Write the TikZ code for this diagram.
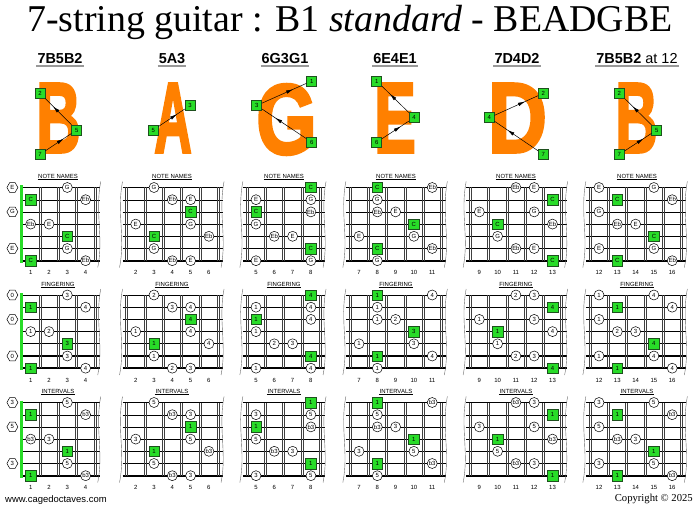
\documentclass[tikz,border=0pt]{standalone}
\usepackage{fontspec}
\setmainfont{Liberation Serif}
\setsansfont{Liberation Sans}
\newfontfamily\letterfont[FakeBold=3]{Liberation Sans Bold}
\usetikzlibrary{shapes.geometric, arrows.meta, decorations.markings}

\definecolor{letterorange}{RGB}{255,128,0}
\definecolor{rootgreen}{RGB}{40,220,40}
\definecolor{rootedge}{RGB}{30,80,30}

\tikzset{
  notefont/.style={font=\sffamily\fontsize{6}{6}\selectfont},
  rootbox/.style={draw=rootedge, fill=rootgreen, minimum size=10.5bp, inner sep=0pt, line width=0.5bp, notefont},
  notecirc/.style={circle, draw, fill=white, minimum size=10bp, inner sep=0pt, line width=0.5bp, notefont},
  openhex/.style={regular polygon, regular polygon sides=6, draw, fill=white, minimum size=11bp, inner sep=0pt, line width=0.5bp, notefont},
  shapebox/.style={draw=rootedge, fill=rootgreen, minimum size=10bp, inner sep=0pt, line width=0.5bp, font=\sffamily\fontsize{6}{6}\selectfont},
  bigletter/.style={text=letterorange, inner sep=0pt, font=\letterfont\fontsize{100}{100}\selectfont},
  midarrow/.style={line width=0.5bp, decoration={markings, mark=at position 0.7 with {\arrow{Latex[length=7bp,width=3.5bp]}}}, postaction={decorate}},
  header/.style={anchor=base, inner xsep=1bp, inner ysep=2.5bp, font=\sffamily\fontsize{14.5}{14.5}\selectfont},
  seclab/.style={inner xsep=0.5bp, inner ysep=0.8bp, font=\sffamily\fontsize{6}{6}\selectfont},
  fretnum/.style={inner sep=0pt, font=\sffamily\fontsize{6}{6}\selectfont},
  wire/.style={line width=0.4bp, black!75},
  edge/.style={line width=0.4bp, black!60},
  nutbar/.style={line width=3bp, rootgreen}
}

\begin{document}
\begin{tikzpicture}[x=1bp, y=-1bp]
    \useasboundingbox (0,0) rectangle (700,509);

    % শিরোনাম
    \node[anchor=base, inner sep=0pt, font=\fontsize{38}{38}\selectfont] (title) at (350,32)
        {7-string guitar : B1 \textit{standard} - BEADGBE};

    % কলামের শিরোনাম
    \node[header] (h1) at (60,63.3) {\textbf{7B5B2}};
    \node[header] (h2) at (172,63.3) {\textbf{5A3}};
    \node[header] (h3) at (285,63.3) {\textbf{6G3G1}};
    \node[header] (h4) at (395,63.3) {\textbf{6E4E1}};
    \node[header] (h5) at (517,63.3) {\textbf{7D4D2}};
    \node[header] (h6) at (637,63.3) {\textbf{7B5B2} at 12};
    \foreach \h in {h1,h2,h3,h4,h5,h6}
        \draw[black!40, line width=1.6bp] (\h.south west) -- (\h.south east);

    % বড় অক্ষর
    \node[bigletter, xscale=0.62] (Lb) at (58.5,118) {B};
    \node[bigletter, xscale=0.52] (La) at (173,118) {A};
    \node[bigletter, xscale=0.78] (Lg) at (286.5,119.5) {G};
    \node[bigletter, xscale=0.63] (Le) at (395,118) {E};
    \node[bigletter, xscale=0.82] (Ld) at (517.5,118) {D};
    \node[bigletter, xscale=0.59] (Lbb) at (636.5,118) {B};

    % অক্ষরের উপর বর্গ (স্ট্রিং নম্বর)
    \node[shapebox] (B-2) at (40,93.3) {2};
    \node[shapebox] (B-5) at (76.7,130) {5};
    \node[shapebox] (B-7) at (40,154.4) {7};
    \node[shapebox] (A-5) at (153.3,130) {5};
    \node[shapebox] (A-3) at (190,105.5) {3};
    \node[shapebox] (G-1) at (311.7,81) {1};
    \node[shapebox] (G-3) at (256.7,105.5) {3};
    \node[shapebox] (G-6) at (311.7,142.2) {6};
    \node[shapebox] (E-1) at (376.7,81) {1};
    \node[shapebox] (E-4) at (414,117.7) {4};
    \node[shapebox] (E-6) at (376.7,142.2) {6};
    \node[shapebox] (D-2) at (543.3,93.3) {2};
    \node[shapebox] (D-4) at (489.3,117.7) {4};
    \node[shapebox] (D-7) at (543.3,154.4) {7};
    \node[shapebox] (BB-2) at (619.3,93.3) {2};
    \node[shapebox] (BB-5) at (656.7,130) {5};
    \node[shapebox] (BB-7) at (619.3,154.4) {7};

    % তীর
    \draw[midarrow] (B-7) -- (B-5);
    \draw[midarrow] (B-5) -- (B-2);
    \draw[midarrow] (A-5) -- (A-3);
    \draw[midarrow] (G-6) -- (G-3);
    \draw[midarrow] (G-3) -- (G-1);
    \draw[midarrow] (E-6) -- (E-4);
    \draw[midarrow] (E-4) -- (E-1);
    \draw[midarrow] (D-7) -- (D-4);
    \draw[midarrow] (D-4) -- (D-2);
    \draw[midarrow] (BB-7) -- (BB-5);
    \draw[midarrow] (BB-5) -- (BB-2);

    % ফ্রেটবোর্ড: কলাম/শূন্য ফ্রেটের x/প্রথম ফ্রেট/শেষ ফ্রেট/কেন্দ্র
    \foreach \col/\xo/\fa/\fb/\cx in {1/12.4/1/4/58, 2/99.1/2/6/172, 3/164.5/5/8/284,
                                      4/230.9/7/11/396, 5/314.6/9/13/516, 6/379.4/12/16/637}{
        \pgfmathtruncatemacro\fz{\fa-1}
        \pgfmathsetmacro\xl{\xo+(\fa-0.5)*18.3}
        \pgfmathsetmacro\xr{\xo+(\fb+0.5)*18.3}
        \pgfmathsetmacro\sl{\col==1 ? \xl : \xl-4}
        \foreach \yt/\lab/\rw in {187.5/NOTE NAMES/a, 295/FINGERING/b, 402.5/INTERVALS/c}{
            % স্ট্রিং
            \foreach \st/\lw in {1/0.3, 2/0.35, 3/0.4, 4/0.6, 5/0.9, 6/1.2, 7/1.7}
                \draw[line width=\lw bp] (\sl, {\yt+(\st-1)*12.2}) -- (\xr+5, {\yt+(\st-1)*12.2});
            % ফ্রেট (দুই লাইন)
            \foreach \f in {\fz,...,\fb}{
                \pgfmathsetmacro\xw{\xo+(\f+0.5)*18.3}
                \ifnum\f>0
                    \draw[wire] (\xw-1, \yt) -- (\xw-1, \yt+73.2);
                    \draw[wire] (\xw+1, \yt) -- (\xw+1, \yt+73.2);
                \fi
            }
            % নাট অথবা ঢেউ খেলানো কিনারা
            \ifnum\col=1
                \draw[nutbar] (\xl, \yt-2) -- (\xl, \yt+75.2);
            \else
                \draw[edge] (\xl-4, \yt-6) .. controls (\xl-10, \yt+25) and (\xl-1, \yt+50) .. (\xl-7, \yt+80);
            \fi
            \draw[edge] (\xr+6, \yt-6) .. controls (\xr, \yt+25) and (\xr+9, \yt+50) .. (\xr+3, \yt+80);
            % ফ্রেট নম্বর
            \foreach \f in {\fa,...,\fb}
                \node[fretnum] (fn-\col-\rw-\f) at (\xo+\f*18.3, \yt+85) {\f};
            % লেবেল প্রদান
            \node[seclab] (lab-\col-\rw) at (\cx, \yt-11) {\lab};
            \draw[line width=0.4bp] (lab-\col-\rw.south west) -- (lab-\col-\rw.south east);
        }
    }

    % নোট: স্ট্রিং/ফ্রেট/ধরন/নোট/আঙুল/ইন্টারভাল
    % কলাম ১
    \foreach \st/\f/\tp/\nm/\fg/\iv in {1/0/openhex/E/0/3, 1/3/notecirc/G/3/5, 2/1/rootbox/C/1/1,
            2/4/notecirc/Eb/4/b3, 3/0/openhex/G/0/5, 4/1/notecirc/Eb/1/b3, 4/2/notecirc/E/2/3,
            5/3/rootbox/C/3/1, 6/0/openhex/E/0/3, 6/3/notecirc/G/3/5, 7/1/rootbox/C/1/1,
            7/4/notecirc/Eb/4/b3}{
        \node[\tp] (a1-\st-\f) at (12.4+\f*18.3, {187.5+(\st-1)*12.2}) {\nm};
        \node[\tp] (b1-\st-\f) at (12.4+\f*18.3, {295+(\st-1)*12.2}) {\fg};
        \node[\tp] (c1-\st-\f) at (12.4+\f*18.3, {402.5+(\st-1)*12.2}) {\iv};
    }
    % কলাম ২
    \foreach \st/\f/\tp/\nm/\fg/\iv in {1/3/notecirc/G/2/5, 2/4/notecirc/Eb/3/b3, 2/5/notecirc/E/4/3,
            3/5/rootbox/C/4/1, 4/2/notecirc/E/1/3, 4/5/notecirc/G/4/5, 5/3/rootbox/C/1/1,
            5/6/notecirc/Eb/4/b3, 6/3/notecirc/G/1/5, 7/4/notecirc/Eb/2/b3, 7/5/notecirc/E/3/3}{
        \node[\tp] (a2-\st-\f) at (99.1+\f*18.3, {187.5+(\st-1)*12.2}) {\nm};
        \node[\tp] (b2-\st-\f) at (99.1+\f*18.3, {295+(\st-1)*12.2}) {\fg};
        \node[\tp] (c2-\st-\f) at (99.1+\f*18.3, {402.5+(\st-1)*12.2}) {\iv};
    }
    % কলাম ৩
    \foreach \st/\f/\tp/\nm/\fg/\iv in {1/8/rootbox/C/4/1, 2/5/notecirc/E/1/3, 2/8/notecirc/G/4/5,
            3/5/rootbox/C/1/1, 3/8/notecirc/Eb/4/b3, 4/5/notecirc/G/1/5, 5/6/notecirc/Eb/2/b3,
            5/7/notecirc/E/3/3, 6/8/rootbox/C/4/1, 7/5/notecirc/E/1/3, 7/8/notecirc/G/4/5}{
        \node[\tp] (a3-\st-\f) at (164.5+\f*18.3, {187.5+(\st-1)*12.2}) {\nm};
        \node[\tp] (b3-\st-\f) at (164.5+\f*18.3, {295+(\st-1)*12.2}) {\fg};
        \node[\tp] (c3-\st-\f) at (164.5+\f*18.3, {402.5+(\st-1)*12.2}) {\iv};
    }
    % কলাম ৪
    \foreach \st/\f/\tp/\nm/\fg/\iv in {1/8/rootbox/C/1/1, 1/11/notecirc/Eb/4/b3, 2/8/notecirc/G/1/5,
            3/8/notecirc/Eb/1/b3, 3/9/notecirc/E/2/3, 4/10/rootbox/C/3/1, 5/7/notecirc/E/1/3,
            5/10/notecirc/G/3/5, 6/8/rootbox/C/1/1, 6/11/notecirc/Eb/4/b3, 7/8/notecirc/G/1/5}{
        \node[\tp] (a4-\st-\f) at (230.9+\f*18.3, {187.5+(\st-1)*12.2}) {\nm};
        \node[\tp] (b4-\st-\f) at (230.9+\f*18.3, {295+(\st-1)*12.2}) {\fg};
        \node[\tp] (c4-\st-\f) at (230.9+\f*18.3, {402.5+(\st-1)*12.2}) {\iv};
    }
    % কলাম ৫
    \foreach \st/\f/\tp/\nm/\fg/\iv in {1/11/notecirc/Eb/2/b3, 1/12/notecirc/E/3/3, 2/13/rootbox/C/4/1,
            3/9/notecirc/E/1/3, 3/12/notecirc/G/3/5, 4/10/rootbox/C/1/1, 4/13/notecirc/Eb/4/b3,
            5/10/notecirc/G/1/5, 6/11/notecirc/Eb/2/b3, 6/12/notecirc/E/3/3, 7/13/rootbox/C/4/1}{
        \node[\tp] (a5-\st-\f) at (314.6+\f*18.3, {187.5+(\st-1)*12.2}) {\nm};
        \node[\tp] (b5-\st-\f) at (314.6+\f*18.3, {295+(\st-1)*12.2}) {\fg};
        \node[\tp] (c5-\st-\f) at (314.6+\f*18.3, {402.5+(\st-1)*12.2}) {\iv};
    }
    % কলাম ৬
    \foreach \st/\f/\tp/\nm/\fg/\iv in {1/12/notecirc/E/1/3, 1/15/notecirc/G/4/5, 2/13/rootbox/C/1/1,
            2/16/notecirc/Eb/4/b3, 3/12/notecirc/G/1/5, 4/13/notecirc/Eb/2/b3, 4/14/notecirc/E/3/3,
            5/15/rootbox/C/4/1, 6/12/notecirc/E/1/3, 6/15/notecirc/G/4/5, 7/13/rootbox/C/1/1,
            7/16/notecirc/Eb/4/b3}{
        \node[\tp] (a6-\st-\f) at (379.4+\f*18.3, {187.5+(\st-1)*12.2}) {\nm};
        \node[\tp] (b6-\st-\f) at (379.4+\f*18.3, {295+(\st-1)*12.2}) {\fg};
        \node[\tp] (c6-\st-\f) at (379.4+\f*18.3, {402.5+(\st-1)*12.2}) {\iv};
    }

    % নিচের লেখা
    \node[anchor=base west, inner sep=0pt, font=\sffamily\fontsize{9.5}{9.5}\selectfont] (web) at (5,502) {www.cagedoctaves.com};
    \node[anchor=base east, inner sep=0pt, font=\fontsize{10.7}{10.7}\selectfont] (copy) at (693,501) {Copyright \textcopyright{} 2025};
\end{tikzpicture}
\end{document}
